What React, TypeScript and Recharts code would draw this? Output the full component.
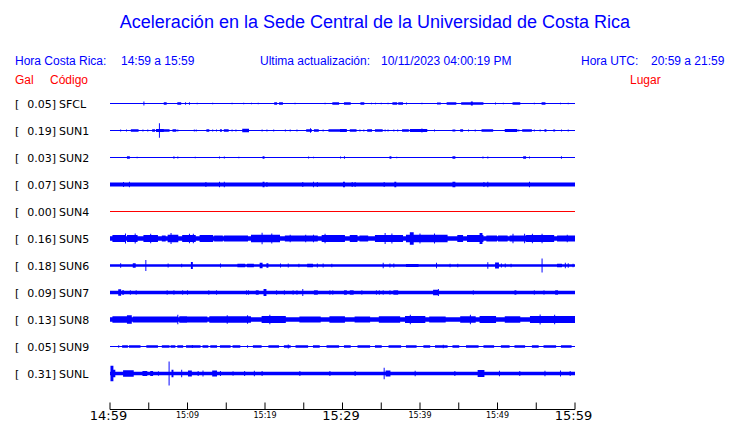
import { Area, ComposedChart, XAxis, YAxis } from 'recharts';

// estaciones (filas de arriba hacia abajo)
const STATION_CODES = ['SFCL', 'SUN1', 'SUN2', 'SUN3', 'SUN4', 'SUN5', 'SUN6', 'SUN7', 'SUN8', 'SUN9', 'SUNL'];
const PEAK_GAL = ['0.05', '0.19', '0.03', '0.07', '0.00', '0.16', '0.18', '0.09', '0.13', '0.05', '0.31'];
const PLACES = [
  'Finca El Corralillo, Coronado',
  'CIMAR',
  'Ingenieria P01',
  'Ingenieria P06',
  'EBCI',
  'Rectoria',
  'Agroalimentarias',
  'Archivo',
  'Electrica P06',
  'Electrica P01',
  'LANAMME-CTT',
];
// semiamplitud de fondo de cada traza (Gal)
const BASE_GAL = [0.013, 0.013, 0.013, 0.052, 0.013, 0.06, 0.034, 0.044, 0.058, 0.013, 0.046];

// rafagas: [minuto inicio, minuto fin, semiamplitud en Gal]
const SFCL_BURSTS = [
  [4.4, 4.4, 0.05], [7.0, 7.2, 0.035], [8.8, 9.1, 0.035], [9.8, 9.8, 0.03], [10.3, 10.3, 0.03], [11.2, 11.2, 0.02],
  [13.2, 13.2, 0.02], [15.7, 15.7, 0.02], [17.2, 17.2, 0.02], [18.2, 18.2, 0.02], [19.1, 19.1, 0.02],
  [21.2, 21.5, 0.03], [21.9, 22.3, 0.03], [23.9, 23.9, 0.02], [27.7, 27.7, 0.02], [28.8, 29.5, 0.03],
  [30.2, 31.0, 0.03], [32.4, 32.8, 0.035], [33.7, 33.7, 0.02], [34.2, 34.2, 0.02], [35.0, 35.0, 0.02],
  [35.9, 35.9, 0.02], [36.5, 37.0, 0.035], [37.3, 37.7, 0.035], [38.3, 38.3, 0.025], [40.3, 40.3, 0.02],
  [42.2, 42.6, 0.025], [43.5, 44.6, 0.03], [45.4, 48.1, 0.035], [46.6, 46.8, 0.05], [49.7, 49.7, 0.025],
  [50.7, 50.7, 0.02], [52.0, 52.9, 0.03], [54.8, 54.8, 0.02], [55.7, 56.1, 0.035], [58.1, 58.1, 0.02],
  [59.1, 59.1, 0.02],
];
const SUN1_BURSTS = [
  [1.4, 1.4, 0.025], [2.15, 2.15, 0.025], [2.8, 3.6, 0.035], [4.2, 4.2, 0.025], [4.9, 4.9, 0.025], [5.5, 5.8, 0.03],
  [6.0, 6.9, 0.04], [6.36, 6.36, 0.19], [7.0, 7.6, 0.03], [8.1, 8.5, 0.035], [8.7, 8.7, 0.025], [10.9, 10.9, 0.025],
  [11.1, 11.1, 0.025], [12.5, 12.7, 0.03], [13.3, 13.3, 0.025], [13.7, 13.7, 0.025], [14.2, 14.4, 0.035],
  [14.7, 15.3, 0.035], [15.7, 15.7, 0.025], [16.3, 16.3, 0.025], [17.1, 17.9, 0.045], [19.6, 19.6, 0.025],
  [20.3, 20.3, 0.025], [21.1, 21.1, 0.025], [22.6, 22.6, 0.025], [23.3, 23.3, 0.025], [24.1, 24.1, 0.025],
  [25.4, 26.0, 0.035], [25.9, 25.9, 0.06], [26.4, 26.9, 0.03], [27.5, 27.5, 0.025], [28.3, 29.6, 0.03],
  [29.7, 30.5, 0.04], [31.0, 31.8, 0.03], [32.3, 32.3, 0.025], [32.7, 32.7, 0.025], [33.3, 33.8, 0.03],
  [34.3, 35.1, 0.03], [35.5, 35.5, 0.025], [35.9, 35.9, 0.025], [36.6, 36.6, 0.025], [37.1, 37.1, 0.025],
  [37.8, 38.5, 0.035], [38.7, 40.9, 0.04], [40.2, 40.3, 0.05], [41.9, 41.9, 0.025], [44.3, 44.5, 0.025],
  [45.2, 45.5, 0.03], [46.2, 46.2, 0.025], [47.1, 47.1, 0.025], [48.0, 48.6, 0.035], [48.8, 49.4, 0.03],
  [51.0, 52.5, 0.04], [52.7, 52.7, 0.025], [53.3, 54.4, 0.03], [54.8, 54.8, 0.025], [55.5, 55.5, 0.025],
  [56.1, 56.3, 0.03], [57.2, 57.4, 0.025], [58.3, 58.3, 0.025], [59.1, 59.1, 0.025],
];
const SUN2_BURSTS = [
  [2.3, 2.5, 0.03], [3.45, 3.45, 0.02], [8.2, 8.3, 0.03], [8.8, 8.8, 0.025], [11.0, 11.0, 0.02], [14.1, 14.1, 0.025],
  [14.7, 14.7, 0.025], [16.6, 16.6, 0.02], [19.8, 19.9, 0.03], [25.6, 25.6, 0.025], [26.2, 26.2, 0.02],
  [29.7, 29.7, 0.025], [30.2, 30.2, 0.03], [36.1, 36.3, 0.03], [37.0, 37.0, 0.02], [44.3, 44.5, 0.03],
  [48.1, 48.1, 0.025], [48.7, 48.7, 0.025], [53.4, 53.6, 0.03], [54.1, 54.1, 0.025], [58.3, 58.3, 0.03],
];
const SUN3_BURSTS = [
  [1.7, 1.7, 0.065], [2.5, 2.5, 0.07], [12.4, 12.4, 0.065], [14.1, 14.1, 0.07], [14.7, 14.7, 0.07], [19.7, 19.9, 0.07],
  [20.3, 20.3, 0.065], [24.9, 24.9, 0.065], [26.2, 26.2, 0.07], [26.7, 26.7, 0.065], [30.1, 30.3, 0.07],
  [31.2, 31.2, 0.065], [31.6, 31.6, 0.065], [35.4, 35.4, 0.065], [36.7, 36.9, 0.07], [44.3, 44.5, 0.07],
  [48.2, 48.2, 0.065], [48.8, 48.8, 0.07], [54.1, 54.1, 0.07],
];
const SUN4_BURSTS: number[][] = [];
const SUN5_BURSTS = [
  [0.4, 1.9, 0.09], [1.94, 1.94, 0.13], [2.2, 3.5, 0.09], [3.2, 3.2, 0.13], [4.4, 6.1, 0.09], [5.3, 5.3, 0.12],
  [6.7, 7.1, 0.08], [7.5, 8.8, 0.1], [7.9, 7.9, 0.14], [9.4, 11.0, 0.09], [10.3, 10.3, 0.12], [10.7, 10.7, 0.12],
  [11.6, 13.2, 0.09], [13.5, 14.5, 0.08], [14.8, 17.8, 0.075], [18.3, 21.9, 0.1], [19.6, 19.6, 0.15],
  [20.9, 20.9, 0.13], [22.6, 26.8, 0.08], [23.2, 23.2, 0.1], [25.2, 25.2, 0.1], [26.2, 26.2, 0.1],
  [27.4, 30.3, 0.09], [27.7, 27.7, 0.12], [31.0, 31.9, 0.09], [32.3, 33.2, 0.08], [34.2, 37.8, 0.09],
  [35.5, 35.5, 0.14], [36.4, 36.4, 0.13], [38.3, 43.5, 0.1], [38.8, 39.1, 0.16], [40.0, 40.0, 0.13],
  [41.9, 41.9, 0.13], [44.9, 45.5, 0.09], [46.1, 48.1, 0.09], [47.7, 48.0, 0.14], [48.6, 49.9, 0.075],
  [50.1, 51.2, 0.08], [51.6, 53.8, 0.08], [52.0, 52.0, 0.12], [53.5, 53.5, 0.12], [53.8, 57.2, 0.09],
  [54.5, 54.5, 0.12], [55.7, 55.7, 0.12], [57.7, 60, 0.08], [59.0, 59.0, 0.1],
];
const SUN6_BURSTS = [
  [1.42, 1.42, 0.06], [3.0, 3.3, 0.06], [4.68, 4.68, 0.14], [7.5, 7.5, 0.05], [9.3, 9.3, 0.045], [10.45, 10.6, 0.09],
  [14.2, 14.2, 0.05], [16.5, 17.4, 0.045], [17.8, 18.5, 0.045], [19.35, 19.6, 0.07], [20.2, 20.2, 0.06],
  [20.4, 20.4, 0.06], [22.06, 22.06, 0.05], [23.0, 23.0, 0.05], [24.4, 24.4, 0.045], [25.5, 26.1, 0.045],
  [26.8, 26.8, 0.05], [27.5, 27.5, 0.05], [28.6, 28.6, 0.045], [35.3, 35.3, 0.07], [36.1, 36.1, 0.05],
  [36.6, 36.6, 0.05], [38.3, 39.8, 0.04], [42.15, 42.15, 0.07], [43.9, 43.9, 0.045], [44.9, 44.9, 0.045],
  [48.8, 48.8, 0.085], [49.7, 50.1, 0.075], [50.5, 50.5, 0.05], [51.0, 51.0, 0.05], [51.8, 51.8, 0.045],
  [55.8, 55.8, 0.18], [57.8, 58.3, 0.045], [58.7, 58.7, 0.07], [59.1, 59.1, 0.06], [59.8, 59.8, 0.045],
];
const SUN7_BURSTS = [
  [1.16, 1.42, 0.085], [1.6, 1.7, 0.06], [2.58, 2.58, 0.055], [3.35, 3.35, 0.055], [7.4, 7.4, 0.055], [8.2, 8.2, 0.055],
  [9.4, 9.4, 0.055], [10.0, 10.0, 0.055], [12.7, 12.7, 0.055], [13.8, 13.8, 0.06], [17.6, 17.6, 0.055],
  [17.9, 17.9, 0.055], [18.9, 19.1, 0.055], [19.9, 20.1, 0.09], [21.5, 21.5, 0.055], [22.5, 22.5, 0.055],
  [23.65, 23.65, 0.055], [24.1, 24.1, 0.055], [24.9, 24.9, 0.09], [26.4, 26.7, 0.06], [28.4, 28.4, 0.055],
  [28.8, 28.8, 0.055], [30.3, 30.5, 0.055], [31.0, 31.4, 0.06], [32.5, 32.5, 0.055], [34.4, 34.4, 0.055],
  [34.75, 34.75, 0.055], [35.3, 35.3, 0.055], [36.1, 36.1, 0.055], [36.6, 37.1, 0.06], [41.7, 42.3, 0.07],
  [42.35, 42.35, 0.09], [46.9, 46.9, 0.055], [52.3, 52.4, 0.06], [54.8, 54.8, 0.055], [56.0, 56.0, 0.055],
  [57.5, 57.8, 0.06],
];
const SUN8_BURSTS = [
  [0.4, 2.6, 0.085], [2.2, 2.7, 0.11], [3.0, 6.1, 0.075], [6.1, 8.6, 0.075], [8.8, 8.8, 0.12], [9.0, 9.9, 0.085],
  [9.9, 12.5, 0.075], [12.9, 15.9, 0.085], [15.1, 15.1, 0.11], [15.9, 18.1, 0.085], [17.8, 17.8, 0.11],
  [19.6, 22.6, 0.09], [20.6, 20.6, 0.12], [24.5, 27.1, 0.075], [28.4, 30.3, 0.085], [31.6, 33.5, 0.075],
  [34.8, 37.4, 0.085], [38.1, 40.6, 0.09], [38.7, 38.7, 0.12], [41.3, 43.2, 0.075], [45.2, 47.1, 0.085],
  [46.5, 46.5, 0.12], [47.7, 49.7, 0.09], [51.0, 52.9, 0.085], [54.2, 60, 0.09], [55.5, 55.5, 0.13],
  [57.4, 57.4, 0.12],
];
const SUN9_BURSTS = [
  [1.07, 1.07, 0.03], [1.6, 2.2, 0.03], [2.5, 3.1, 0.03], [3.3, 3.9, 0.03], [4.8, 6.1, 0.03], [6.8, 7.6, 0.03],
  [7.9, 8.4, 0.03], [8.7, 9.4, 0.03], [9.9, 11.6, 0.03], [10.6, 10.6, 0.04], [12.0, 12.6, 0.03], [13.0, 13.8, 0.03],
  [14.2, 15.5, 0.03], [15.9, 16.8, 0.03], [17.7, 17.7, 0.03], [18.5, 19.5, 0.03], [20.5, 21.8, 0.03],
  [22.5, 23.2, 0.03], [23.0, 23.0, 0.05], [24.0, 25.5, 0.03], [26.2, 27.0, 0.03], [28.0, 29.5, 0.03],
  [30.2, 31.0, 0.03], [32.0, 33.5, 0.03], [34.2, 35.0, 0.03], [36.0, 37.5, 0.03], [38.2, 39.5, 0.03],
  [40.5, 41.2, 0.03], [42.0, 43.5, 0.03], [43.0, 43.0, 0.045], [44.3, 45.0, 0.03], [46.0, 47.5, 0.03],
  [48.2, 49.5, 0.03], [50.5, 51.5, 0.03], [52.3, 53.5, 0.03], [54.5, 55.2, 0.03], [56.0, 57.5, 0.03],
  [58.3, 59.5, 0.03],
];
const SUNL_BURSTS = [
  [0.1, 0.43, 0.2], [0.45, 0.65, 0.1], [1.7, 3.0, 0.085], [4.3, 4.8, 0.065], [5.2, 5.55, 0.065], [6.3, 6.3, 0.06],
  [7.65, 7.65, 0.31], [7.96, 8.17, 0.095], [9.25, 9.25, 0.1], [10.1, 10.5, 0.075], [11.4, 11.4, 0.065],
  [12.0, 12.0, 0.08], [13.3, 13.8, 0.075], [14.2, 14.2, 0.065], [15.9, 15.9, 0.06], [17.4, 17.4, 0.065],
  [18.6, 18.6, 0.07], [19.6, 19.6, 0.065], [24.5, 24.5, 0.065], [28.4, 28.4, 0.065], [31.6, 31.6, 0.065],
  [35.35, 35.35, 0.15], [35.6, 36.1, 0.08], [39.4, 39.4, 0.07], [44.5, 44.5, 0.065], [47.5, 48.3, 0.09],
  [50.3, 50.3, 0.07], [52.9, 52.9, 0.065], [56.1, 56.1, 0.07], [58.1, 58.1, 0.075], [59.4, 59.4, 0.065],
];
const BURSTS = [
  SFCL_BURSTS, SUN1_BURSTS, SUN2_BURSTS, SUN3_BURSTS, SUN4_BURSTS, SUN5_BURSTS,
  SUN6_BURSTS, SUN7_BURSTS, SUN8_BURSTS, SUN9_BURSTS, SUNL_BURSTS,
];

// eje de tiempo (minutos desde 14:59)
const TIME_TICKS = [0, 5, 10, 15, 20, 25, 30, 35, 40, 45, 50, 55, 60];
const TIME_LABELS = ['14:59', '', '15:09', '', '15:19', '', '15:29', '', '15:39', '', '15:49', '', '15:59'];
const MAJOR_LABELS = ['14:59', '15:29', '15:59'];
const ROW_TICKS = [0, 1, 2, 3, 4, 5, 6, 7, 8, 9, 10];

const TITLE = 'Aceleración en la Sede Central de la Universidad de Costa Rica';
const HORA_CR = ['Hora Costa Rica:', '14:59 a 15:59'];
const ACTUALIZACION = ['Ultima actualización:', '10/11/2023 04:00:19 PM'];
const HORA_UTC = ['Hora UTC:', '20:59 a 21:59'];

const BLUE = '#0000ff';
const RED = '#ff0000';
const SAMPLE_STEP = 0.125;
const ROWS_PER_GAL = 38.7 / 27;

const sampleTimes = Array.from({ length: 60 / SAMPLE_STEP + 1 }, (_, i) => i * SAMPLE_STEP);

function amplitudeAt(row: number, t: number) {
  let a = BASE_GAL[row];
  for (const [s, e, v] of BURSTS[row]) {
    if (t >= s - SAMPLE_STEP / 2 && t < e + SAMPLE_STEP / 2 && v > a) a = v;
  }
  return a;
}

const data = sampleTimes.map((t) => {
  const point: Record<string, number | number[]> = { t };
  STATION_CODES.forEach((_, row) => {
    const a = amplitudeAt(row, t) * ROWS_PER_GAL;
    point['s' + row] = [row - a, row + a];
  });
  return point;
});

const sans = 'Liberation Sans, Arial, sans-serif';
const dejavu = 'DejaVu Sans, sans-serif';

function TimeTick(props: any) {
  const { x, y, index } = props;
  const label = TIME_LABELS[index];
  const major = MAJOR_LABELS.includes(label);
  return (
    <g>
      <line x1={x} y1={y} x2={x} y2={y - 7} stroke="#000" strokeWidth={1} />
      {label && (
        <text
          x={major ? x - 1.5 : x}
          y={major ? y + 10.5 : y + 8}
          textAnchor="middle"
          fontFamily={dejavu}
          fontSize={major ? 13 : 8}
          fill="#000"
        >
          {label}
        </text>
      )}
    </g>
  );
}

function StationTick(props: any) {
  const { x, y, payload } = props;
  const row = payload.value;
  return (
    <g fontFamily={dejavu} fontSize={11} fill="#000">
      <text x={x - 95} y={y + 4}>[</text>
      <text x={x - 54} y={y + 4} textAnchor="end">{PEAK_GAL[row]}]</text>
      <text x={x - 51} y={y + 4}>{STATION_CODES[row]}</text>
    </g>
  );
}

function PlaceTick(props: any) {
  const { x, y, payload } = props;
  return (
    <text x={x + 12} y={y + 4} fontFamily={dejavu} fontSize={11} fill="#000">
      {PLACES[payload.value]}
    </text>
  );
}

export default function App() {
  return (
    <div style={{ position: 'absolute', left: 0, top: 0, width: 740, height: 423, background: '#fff' }}>
      <svg width={740} height={423} style={{ position: 'absolute', left: 0, top: 0 }}>
        <text x={375} y={28} textAnchor="middle" fontFamily={sans} fontSize={18} fill={BLUE}>{TITLE}</text>
        <g fontFamily={sans} fontSize={12} fill={BLUE}>
          <text x={15} y={65}>{HORA_CR[0]}</text>
          <text x={121} y={65}>{HORA_CR[1]}</text>
          <text x={260} y={65}>{ACTUALIZACION[0]}</text>
          <text x={381} y={65}>{ACTUALIZACION[1]}</text>
          <text x={581} y={65}>{HORA_UTC[0]}</text>
          <text x={651} y={65}>{HORA_UTC[1]}</text>
        </g>
        <g fontFamily={sans} fontSize={12} fill={RED}>
          <text x={15} y={84}>Gal</text>
          <text x={50} y={84}>Código</text>
          <text x={630} y={84}>Lugar</text>
        </g>
      </svg>
      <div style={{ position: 'absolute', left: 0, top: 0 }}>
        <ComposedChart width={740} height={423} data={data} margin={{ top: 76.5, right: 0, bottom: 0, left: 0 }}>
          <XAxis
            dataKey="t"
            type="number"
            domain={[0, 60]}
            ticks={TIME_TICKS}
            interval={0}
            height={13.5}
            tickSize={0}
            tickMargin={0}
            tickLine={false}
            axisLine={{ stroke: '#000' }}
            tick={(p: any) => <TimeTick {...p} />}
          />
          <YAxis
            yAxisId="left"
            type="number"
            domain={[-1, 34 / 3]}
            reversed
            width={110}
            ticks={ROW_TICKS}
            interval={0}
            tickSize={0}
            tickMargin={0}
            tickLine={false}
            axisLine={false}
            tick={(p: any) => <StationTick {...p} />}
          />
          <YAxis
            yAxisId="right"
            orientation="right"
            type="number"
            domain={[-1, 34 / 3]}
            reversed
            width={165}
            ticks={ROW_TICKS}
            interval={0}
            tickSize={0}
            tickMargin={0}
            tickLine={false}
            axisLine={false}
            tick={(p: any) => <PlaceTick {...p} />}
          />
          {STATION_CODES.map((code, row) => (
            <Area
              key={code}
              yAxisId="left"
              dataKey={'s' + row}
              type="step"
              fill={row === 4 ? RED : BLUE}
              fillOpacity={1}
              stroke="none"
              dot={false}
              activeDot={false}
              isAnimationActive={false}
            />
          ))}
        </ComposedChart>
      </div>
    </div>
  );
}
